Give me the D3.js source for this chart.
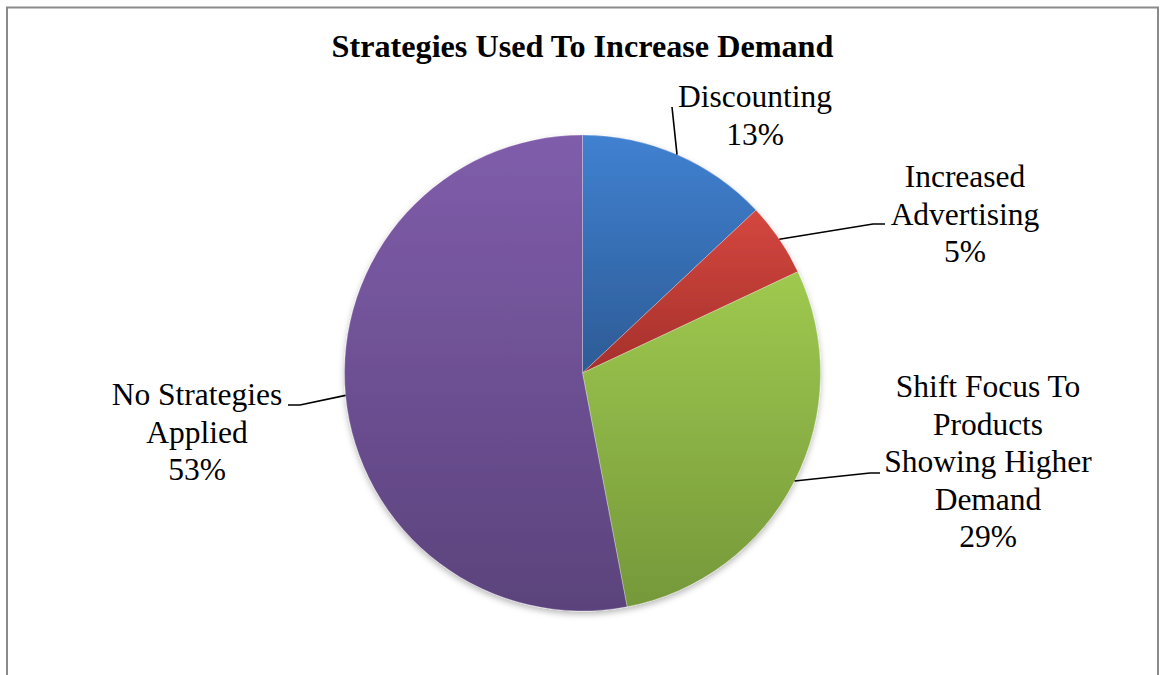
<!DOCTYPE html>
<html>
<head>
<meta charset="utf-8">
<script src="https://cdn.jsdelivr.net/npm/d3@7"></script>
<style>
  html, body { margin: 0; padding: 0; background: #fff; }
  svg { display: block; }
  text { font-family: "Liberation Serif", "Times New Roman", serif; fill: #000; }
</style>
</head>
<body>
<svg id="chart" width="1160" height="675"></svg>
<script>
// Survey answers: share of firms by strategy used (percent)
const categories = [
  "Discounting",
  "Increased Advertising",
  "Shift Focus To Products Showing Higher Demand",
  "No Strategies Applied"
];
const values = [13, 5, 29, 53];

// Label text broken into lines as printed next to each slice
const labelLines = [
  ["Discounting", "13%"],
  ["Increased", "Advertising", "5%"],
  ["Shift Focus To", "Products", "Showing Higher", "Demand", "29%"],
  ["No Strategies", "Applied", "53%"]
];

// Slice fills: top (light) and bottom (dark) gradient stops
const colorsTop = ["#4081d1", "#d4473f", "#9fc94f", "#805dab"];
const colorsBottom = ["#2d5b95", "#a5302b", "#75983a", "#5b437c"];

const titleText = "Strategies Used To Increase Demand";

const W = 1160, H = 675;
const cx = 582.5, cy = 373, R = 238;
const fontSize = 31.5, titleSize = 32.2, lineH = 37.5;

const svg = d3.select("#chart");
const defs = svg.append("defs");

// Vertical gradient per slice
categories.forEach((c, i) => {
  const g = defs.append("linearGradient")
    .attr("id", "grad" + i)
    .attr("x1", 0).attr("y1", 0).attr("x2", 0).attr("y2", 1);
  g.append("stop").attr("offset", "0%").attr("stop-color", colorsTop[i]);
  g.append("stop").attr("offset", "100%").attr("stop-color", colorsBottom[i]);
});

// Soft shadow below the pie
const f = defs.append("filter").attr("id", "shadow")
  .attr("x", "-10%").attr("y", "-10%").attr("width", "120%").attr("height", "125%");
f.append("feDropShadow").attr("dx", 0).attr("dy", 3)
  .attr("stdDeviation", 3).attr("flood-color", "#000").attr("flood-opacity", 0.28);

// Chart frame
svg.append("rect")
  .attr("x", 7).attr("y", 7.5)
  .attr("width", 1151).attr("height", 700)
  .attr("fill", "#fff")
  .attr("stroke", "#8a8a8a")
  .attr("stroke-width", 2);

// Title
svg.append("text")
  .attr("x", cx).attr("y", 57)
  .attr("text-anchor", "middle")
  .attr("font-weight", "bold")
  .attr("font-size", titleSize)
  .text(titleText);

// Pie
const pie = d3.pie().sort(null).value(d => d)
  .startAngle(0).endAngle(2 * Math.PI);
const arcs = pie(values);
const arc = d3.arc().innerRadius(0).outerRadius(R);

const g = svg.append("g").attr("transform", `translate(${cx},${cy})`);
const pieGroup = g.append("g").attr("filter", "url(#shadow)");
pieGroup.selectAll("path")
  .data(arcs)
  .enter().append("path")
  .attr("d", arc)
  .attr("fill", (d, i) => `url(#grad${i})`)
  .attr("stroke", "rgba(255,255,255,0.35)")
  .attr("stroke-width", 0.8);

// Label placement: block centre (x), baseline of first line, and the leader
// line's attach point on the label side
const labelPos = [
  { x: 755, y: 107, leader: [[672, 107]] },
  { x: 965, y: 187, leader: [[873, 224], [885, 224]] },
  { x: 988, y: 397, leader: [[870, 473], [880, 473]] },
  { x: 197, y: 405, leader: [[300, 405], [288, 405]] }
];

arcs.forEach((d, i) => {
  const mid = (d.startAngle + d.endAngle) / 2;
  const p0 = [cx + R * Math.sin(mid), cy - R * Math.cos(mid)];
  const pts = [p0].concat(labelPos[i].leader);
  svg.append("path")
    .attr("d", d3.line()(pts))
    .attr("fill", "none")
    .attr("stroke", "#000")
    .attr("stroke-width", 1.6);

  const t = svg.append("text")
    .attr("text-anchor", "middle")
    .attr("font-size", fontSize);
  labelLines[i].forEach((ln, k) => {
    t.append("tspan")
      .attr("x", labelPos[i].x)
      .attr("y", labelPos[i].y + k * lineH)
      .text(ln);
  });
});
</script>
</body>
</html>
